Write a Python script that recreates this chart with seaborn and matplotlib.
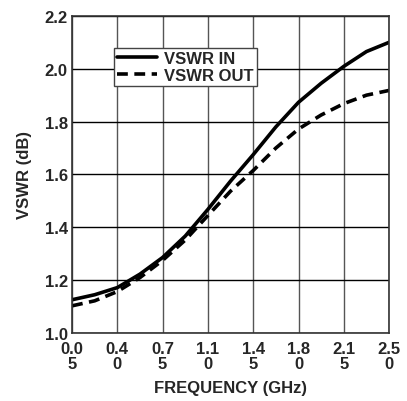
import numpy as np
import pandas as pd
import matplotlib
matplotlib.use('Agg')
import matplotlib.pyplot as plt
import seaborn as sns

# values
freq = [0.05, 0.225, 0.40, 0.575, 0.75, 0.925, 1.10, 1.275, 1.45,
        1.625, 1.80, 1.975, 2.15, 2.325, 2.50]
vswr_in = [1.126, 1.145, 1.172, 1.223, 1.286, 1.367, 1.468, 1.575, 1.675,
           1.78, 1.873, 1.945, 2.009, 2.065, 2.10]
vswr_out = [1.103, 1.122, 1.157, 1.21, 1.275, 1.352, 1.445, 1.537, 1.615,
            1.70, 1.772, 1.825, 1.868, 1.90, 1.918]
xticks = [0.05, 0.40, 0.75, 1.10, 1.45, 1.80, 2.15, 2.50]
xtick_labels = ['0.0\n5', '0.4\n0', '0.7\n5', '1.1\n0', '1.4\n5', '1.8\n0', '2.1\n5', '2.5\n0']
yticks = [1.0, 1.2, 1.4, 1.6, 1.8, 2.0, 2.2]

df = pd.DataFrame({
    'freq': freq * 2,
    'vswr': vswr_in + vswr_out,
    'series': ['VSWR IN'] * len(freq) + ['VSWR OUT'] * len(freq),
})

sns.set_style('white')
plt.rcParams['font.family'] = ['Liberation Sans', 'DejaVu Sans']
plt.rcParams['font.weight'] = 'bold'
plt.rcParams['lines.solid_joinstyle'] = 'round'
plt.rcParams['lines.dash_joinstyle'] = 'round'

fig = plt.figure(figsize=(4.07, 4.02), dpi=100)
ax = fig.add_axes([0.177, 0.169, 0.779, 0.789])

sns.lineplot(data=df, x='freq', y='vswr', style='series',
             dashes={'VSWR IN': '', 'VSWR OUT': (3, 1.8)},
             color='black', linewidth=2.6, ax=ax)

ax.set_xlim(0.05, 2.50)
ax.set_ylim(1.0, 2.2)
ax.set_xticks(xticks)
ax.set_xticklabels(xtick_labels, fontsize=12, fontweight='bold', linespacing=1.0)
ax.set_yticks(yticks)
ax.set_yticklabels([f'{v:.1f}' for v in yticks], fontsize=12, fontweight='bold')
ax.tick_params(axis='y', length=0, pad=3)
ax.tick_params(axis='x', length=0, pad=6)

ax.grid(True, axis='x', color='#555555', linewidth=1.0)
ax.grid(True, axis='y', color='black', linewidth=1.0)
for s in ax.spines.values():
    s.set_color('#333333')
    s.set_linewidth(1.2)

ax.set_xlabel('FREQUENCY (GHz)', fontsize=12, fontweight='bold', labelpad=6)
ax.set_ylabel('VSWR (dB)', fontsize=12, fontweight='bold', labelpad=9)

leg = ax.legend(loc='upper left', bbox_to_anchor=(0.132, 0.90), fontsize=12,
                frameon=True, fancybox=False, edgecolor='#444444', framealpha=1,
                handlelength=2.4, handletextpad=0.4, borderpad=0.2,
                labelspacing=0.1, borderaxespad=0)
leg.get_frame().set_linewidth(1.0)
for t in leg.get_texts():
    t.set_fontweight('bold')

fig.savefig('out.png', dpi=100)
